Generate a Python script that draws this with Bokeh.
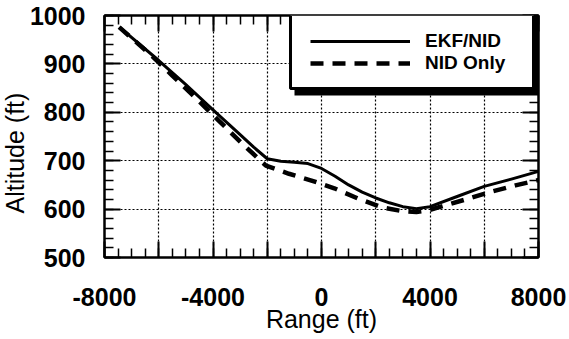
import numpy as np
from bokeh.plotting import figure
from bokeh.models import (Range1d, FixedTicker, LinearAxis, Legend, LegendItem,
                          BoxAnnotation, Title, CustomJSTickFormatter)
from bokeh.embed import file_html
from bokeh.resources import INLINE

# ---- data ----
ekf_range = [-7450, -6000, -5000, -4000, -3000, -2500, -2000, -1500, -1000, -500,
             0, 500, 1000, 1500, 2000, 2500, 3000, 3500, 4000, 5000, 6000, 7000, 8000]
ekf_alt = [976, 907, 857, 805, 754, 728, 704, 699, 697, 694,
           684, 668, 650, 635, 623, 613, 605, 601, 605, 626, 647, 662, 678]

nid_range = [-7460, -6300, -5500, -4610, -3790, -2940, -2050, -1200, -370, 470,
             1340, 2260, 2960, 3500, 3900, 4530, 5440, 6270, 7150, 8000]
nid_alt = [976, 919, 876, 828, 783, 736, 690, 673, 659, 643,
           622, 603, 596, 594, 597, 607, 622, 636, 649, 660]

x_major = [-8000, -6000, -4000, -2000, 0, 2000, 4000, 6000, 8000]
x_minor = list(range(-8000, 8001, 500))
x_labels = {-8000: "-8000", -4000: "-4000", 0: "0", 4000: "4000", 8000: "8000"}
y_major = [500, 600, 700, 800, 900, 1000]
y_minor = list(range(500, 1001, 20))

FONT = "Liberation Sans"

p = figure(width=569, height=339, x_range=Range1d(-8000, 8000), y_range=Range1d(500, 1000),
           output_backend="svg", toolbar_location=None,
           min_border_left=102, min_border_right=31, min_border_top=15, min_border_bottom=82)
p.background_fill_color = "white"
p.border_fill_color = "white"
p.outline_line_color = "black"
p.outline_line_width = 2

xt = FixedTicker(ticks=x_major, minor_ticks=x_minor)
yt = FixedTicker(ticks=y_major, minor_ticks=y_minor)

blank = CustomJSTickFormatter(code="return ''")
p.add_layout(LinearAxis(formatter=blank, major_label_standoff=0), "above")
p.add_layout(LinearAxis(formatter=blank, major_label_standoff=0), "right")

for ax in p.xaxis:
    ax.ticker = xt
for ax in p.yaxis:
    ax.ticker = yt

for ax in p.axis:
    ax.axis_line_color = "black"
    ax.axis_line_width = 2
    ax.major_tick_in = 16
    ax.major_tick_out = 0
    ax.minor_tick_in = 9
    ax.minor_tick_out = 0
    ax.major_tick_line_color = "black"
    ax.major_tick_line_width = 2
    ax.minor_tick_line_color = "black"
    ax.minor_tick_line_width = 1.5
    ax.major_label_text_font = FONT
    ax.major_label_text_font_style = "bold"
    ax.major_label_text_font_size = "25px"
    ax.major_label_text_color = "black"

bx = p.below[0]
bx.major_label_overrides = {t: x_labels.get(t, "") for t in x_major}
bx.major_label_standoff = 30
bx.axis_label = "Range (ft)"
bx.axis_label_standoff = -4
bx.axis_label_text_font = FONT
bx.axis_label_text_font_style = "normal"
bx.axis_label_text_font_size = "25px"
bx.axis_label_text_color = "black"

ly = p.left[0]
ly.major_label_standoff = 19

p.add_layout(Title(text="Altitude (ft)", align="left", offset=44, standoff=-4,
                   text_font=FONT, text_font_style="normal", text_font_size="25px",
                   text_color="black"), "left")

p.xgrid.ticker = xt
p.ygrid.ticker = yt
for g in (p.xgrid, p.ygrid):
    g.grid_line_color = "black"
    g.grid_line_dash = "2 2"
    g.grid_line_width = 1.2
    g.grid_line_alpha = 1

r1 = p.line(ekf_range, ekf_alt, line_color="black", line_width=3, line_join="round")
r2 = p.line(nid_range, nid_alt, line_color="black", line_width=4.5, line_dash="13 9")

# legend box: shadow + white panel with heavy border
shadow = BoxAnnotation(left=190, right=436, top=242, bottom=162,
                       left_units="screen", right_units="screen",
                       top_units="screen", bottom_units="screen",
                       fill_color="black", fill_alpha=1, line_color=None)
panel = BoxAnnotation(left=186, right=429, top=243, bottom=169,
                      left_units="screen", right_units="screen",
                      top_units="screen", bottom_units="screen",
                      fill_color="white", fill_alpha=1,
                      line_color="black", line_width=3, line_alpha=1)
p.add_layout(shadow)
p.add_layout(panel)

common = dict(glyph_width=100, glyph_height=20, label_standoff=15, padding=0,
              spacing=0, margin=0, label_text_font=FONT, label_text_font_style="bold",
              label_text_font_size="19px", label_text_color="black",
              border_line_color=None, background_fill_alpha=0)
leg1 = Legend(items=[LegendItem(label="EKF/NID", renderers=[r1])], location=(206, 205), **common)
leg2 = Legend(items=[LegendItem(label="NID Only", renderers=[r2])], location=(206, 183), **common)
p.add_layout(leg1)
p.add_layout(leg2)

open("out.html", "w").write(file_html(p, INLINE))
